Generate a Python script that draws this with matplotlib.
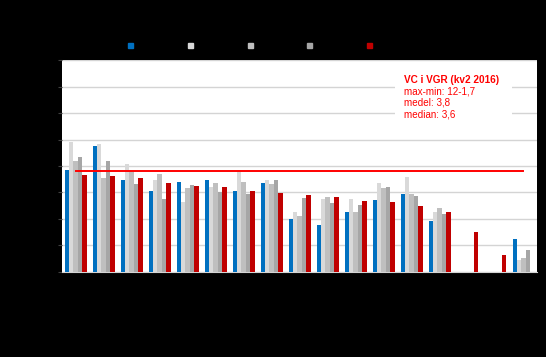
import matplotlib
matplotlib.use("Agg")
import matplotlib.pyplot as plt
from matplotlib.lines import Line2D
from matplotlib.patches import Rectangle
import numpy as np

plt.rcParams["font.family"] = ["Liberation Sans", "DejaVu Sans"]

# ── Data ─────────────────────────────────────────────────────────────────────
categories = [f"Enhet {i}" for i in range(1, 18)]
series_labels = ["kv2 2015", "kv3 2015", "kv4 2015", "kv1 2016", "kv2 2016"]

blue  = [3.85, 4.76, 3.46, 3.06, 3.41, 3.47, 3.06, 3.36, 2.00, 1.76, 2.27, 2.70, 2.94, 1.93, 0.00, 0.00, 1.25]
light = [4.92, 4.84, 4.08, 3.48, 2.63, 3.22, 3.79, 3.48, 2.27, 2.75, 2.74, 3.35, 3.60, 2.26, 0.00, 0.00, 0.45]
gray  = [4.20, 3.56, 3.80, 3.70, 3.17, 3.36, 3.40, 3.33, 2.11, 2.83, 2.26, 3.18, 2.95, 2.41, 0.00, 0.00, 0.50]
dark  = [4.34, 4.20, 3.32, 2.75, 3.27, 3.02, 2.95, 3.46, 2.79, 2.60, 2.51, 3.19, 2.87, 2.17, 0.00, 0.00, 0.83]
red   = [3.67, 3.61, 3.54, 3.37, 3.26, 3.21, 3.04, 2.98, 2.90, 2.84, 2.66, 2.63, 2.49, 2.26, 1.49, 0.64, 0.00]

vgr_mean = 3.8
box_lines = ["VC i VGR (kv2 2016)", "max-min: 12-1,7", "medel: 3,8", "median: 3,6"]

# ── Colors ────────────────────────────────────────────────────────────────────
BLUE  = "#0070C0"
LGRAY = "#D9D9D9"
MGRAY = "#BFBFBF"
DGRAY = "#A6A6A6"
DRED  = "#C00000"
RED   = "#FF0000"
GRID  = "#D4D4D4"
colors = [BLUE, LGRAY, MGRAY, DGRAY, DRED]

fig = plt.figure(figsize=(5.46, 3.57), dpi=100)
fig.patch.set_facecolor("black")
ax = fig.add_axes([0.113, 0.239, 0.8714, 0.592])
ax.set_facecolor("white")

x = np.arange(len(categories))
w = 0.157
for i, (vals, col) in enumerate(zip([blue, light, gray, dark, red], colors)):
    ax.bar(x + (i - 2) * w, vals, width=w, color=col, zorder=3,
           linewidth=0, label=series_labels[i])

# mean line for VGR
ax.plot(x, [vgr_mean] * len(x), color=RED, lw=1.4, zorder=4)

ax.set_xlim(-0.5, len(categories) - 0.5)
ax.set_ylim(0, 8)
ax.set_yticks(range(0, 9))
ax.yaxis.grid(True, color=GRID, lw=1, zorder=0)
ax.set_axisbelow(True)
for s in ["top", "right", "left"]:
    ax.spines[s].set_visible(False)
ax.spines["bottom"].set_color(GRID)
ax.set_xticks(x)
ax.set_xticklabels(categories, rotation=90, fontsize=6, color="black")
ax.tick_params(axis="y", colors="#404040", labelcolor="black", length=3, labelsize=7)
ax.tick_params(axis="x", colors="black", length=3)

# annotation box
ax.add_patch(Rectangle((0.701, 0.71), 0.246, 0.26, transform=ax.transAxes,
                       facecolor="white", edgecolor="none", zorder=2))
tx = 0.719
ys = [0.908, 0.854, 0.800, 0.745]
for j, (ty, txt) in enumerate(zip(ys, box_lines)):
    ax.text(tx, ty, txt, transform=ax.transAxes, ha="left", va="center",
            fontsize=7.2 if j == 0 else 7.1, color=RED,
            fontweight="bold" if j == 0 else "normal", zorder=5)

# legend (labels are black on the black background, as in the reference)
handles = [Line2D([0], [0], marker="s", ls="none", markersize=3.6,
                  markerfacecolor=c, markeredgecolor=c) for c in colors]
fig.legend(handles, series_labels, loc="center", bbox_to_anchor=(0.497, 0.874),
           ncol=5, frameon=False, fontsize=7, labelcolor="black",
           handlelength=0.6, handletextpad=0.4, columnspacing=1.1)

fig.savefig("out.png", dpi=100, facecolor="black")
